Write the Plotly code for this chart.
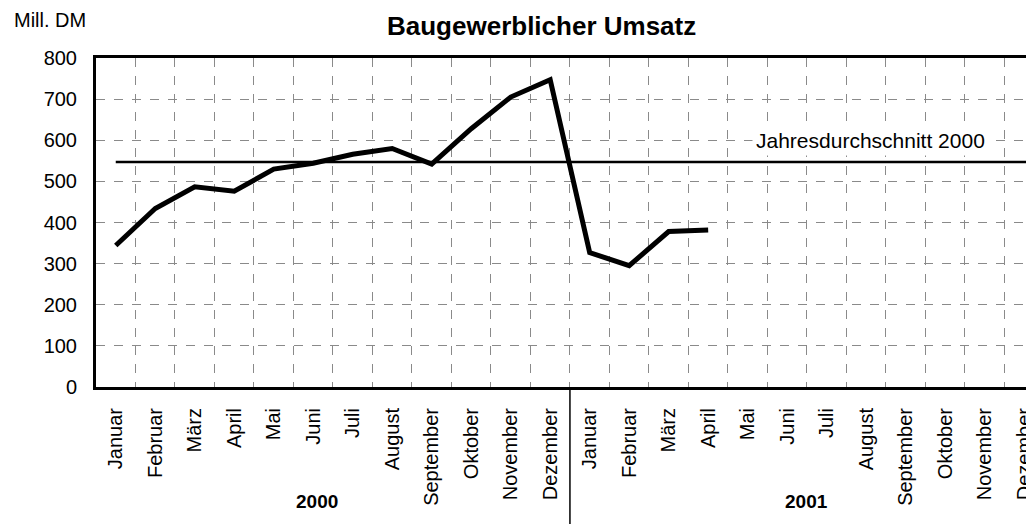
import plotly.graph_objects as go

months = ["Januar", "Februar", "März", "April", "Mai", "Juni", "Juli",
          "August", "September", "Oktober", "November", "Dezember"]
years = ["2000", "2001"]
categories = months + months
umsatz_2000 = [344, 434, 487, 476, 530, 544, 566, 580, 542, 628, 705, 747]
umsatz_2001 = [327, 295, 378, 382]
jahresdurchschnitt_2000 = 547

values = umsatz_2000 + umsatz_2001
xs = list(range(len(values)))
n_cat = len(categories)

FONT = "Liberation Sans, Arial, sans-serif"

# the page body adds an 8px offset; size the figure accordingly
W, H = 1026, 516
L, T, B = 88, 50, 137
PLOT_H = H - T - B
PLOT_W = W - L

fig = go.Figure()

# mean line
fig.add_trace(go.Scatter(
    x=[0, n_cat - 0.75], y=[jahresdurchschnitt_2000] * 2,
    mode="lines", line=dict(color="black", width=2.5),
    hoverinfo="skip", showlegend=False, cliponaxis=False))

# data line
fig.add_trace(go.Scatter(
    x=xs, y=values, mode="lines",
    line=dict(color="black", width=5),
    showlegend=False))

fig.add_annotation(
    x=19.1, y=600, xref="x", yref="y",
    text="Jahresdurchschnitt 2000", showarrow=False,
    font=dict(family=FONT, size=21, color="black"),
    bgcolor="white", borderpad=3)

fig.add_annotation(
    x=5.1, y=-0.385, xref="x", yref="paper",
    text="<b>%s</b>" % years[0], showarrow=False,
    font=dict(family=FONT, size=19, color="black"))
fig.add_annotation(
    x=17.5, y=-0.385, xref="x", yref="paper",
    text="<b>%s</b>" % years[1], showarrow=False,
    font=dict(family=FONT, size=19, color="black"))

fig.add_annotation(
    x=-0.0896, y=1.1155, xref="paper", yref="paper", xanchor="left",
    yanchor="middle",
    text="Mill. DM", showarrow=False,
    font=dict(family=FONT, size=20, color="black"))

# title as annotation, kept fully inside the figure
fig.add_annotation(
    x=(541 - 8 - L) / PLOT_W, y=1 + (T - 1) / PLOT_H,
    xref="paper", yref="paper", xanchor="center", yanchor="top",
    text="<b>Baugewerblicher Umsatz</b>", showarrow=False,
    font=dict(family=FONT, size=26, color="black"))

# separator between years
fig.add_shape(type="line", xref="x", yref="paper",
              x0=len(months) - 0.5, x1=len(months) - 0.5, y0=0, y1=-0.42,
              line=dict(color="black", width=1.5))

fig.update_layout(
    width=W, height=H,
    margin=dict(l=L, r=0, t=T, b=B, autoexpand=False),
    paper_bgcolor="white", plot_bgcolor="white",
    xaxis=dict(
        range=[-0.5, n_cat - 0.75], automargin=False,
        tickmode="array", tickvals=list(range(n_cat)), ticktext=categories,
        tickangle=-90, showgrid=False, zeroline=False,
        ticklabeloverflow="allow",
        ticks="outside", ticklen=10, tickcolor="rgba(0,0,0,0)",
        tickfont=dict(family=FONT, size=20, color="black"),
        showline=True, linecolor="black", linewidth=3, mirror=True,
        minor=dict(tick0=0.5, dtick=1, showgrid=True, gridcolor="#8a8a8a",
                   gridwidth=1, griddash="dash", ticks=""),
    ),
    yaxis=dict(
        range=[0, 800], tickmode="linear", tick0=0, dtick=100,
        automargin=False,
        showgrid=True, gridcolor="#8a8a8a", gridwidth=1, griddash="dash",
        zeroline=False,
        ticks="outside", ticklen=12, tickcolor="rgba(0,0,0,0)",
        tickfont=dict(family=FONT, size=20, color="black"),
        showline=True, linecolor="black", linewidth=3,
    ),
)

fig.write_html("out.html")
